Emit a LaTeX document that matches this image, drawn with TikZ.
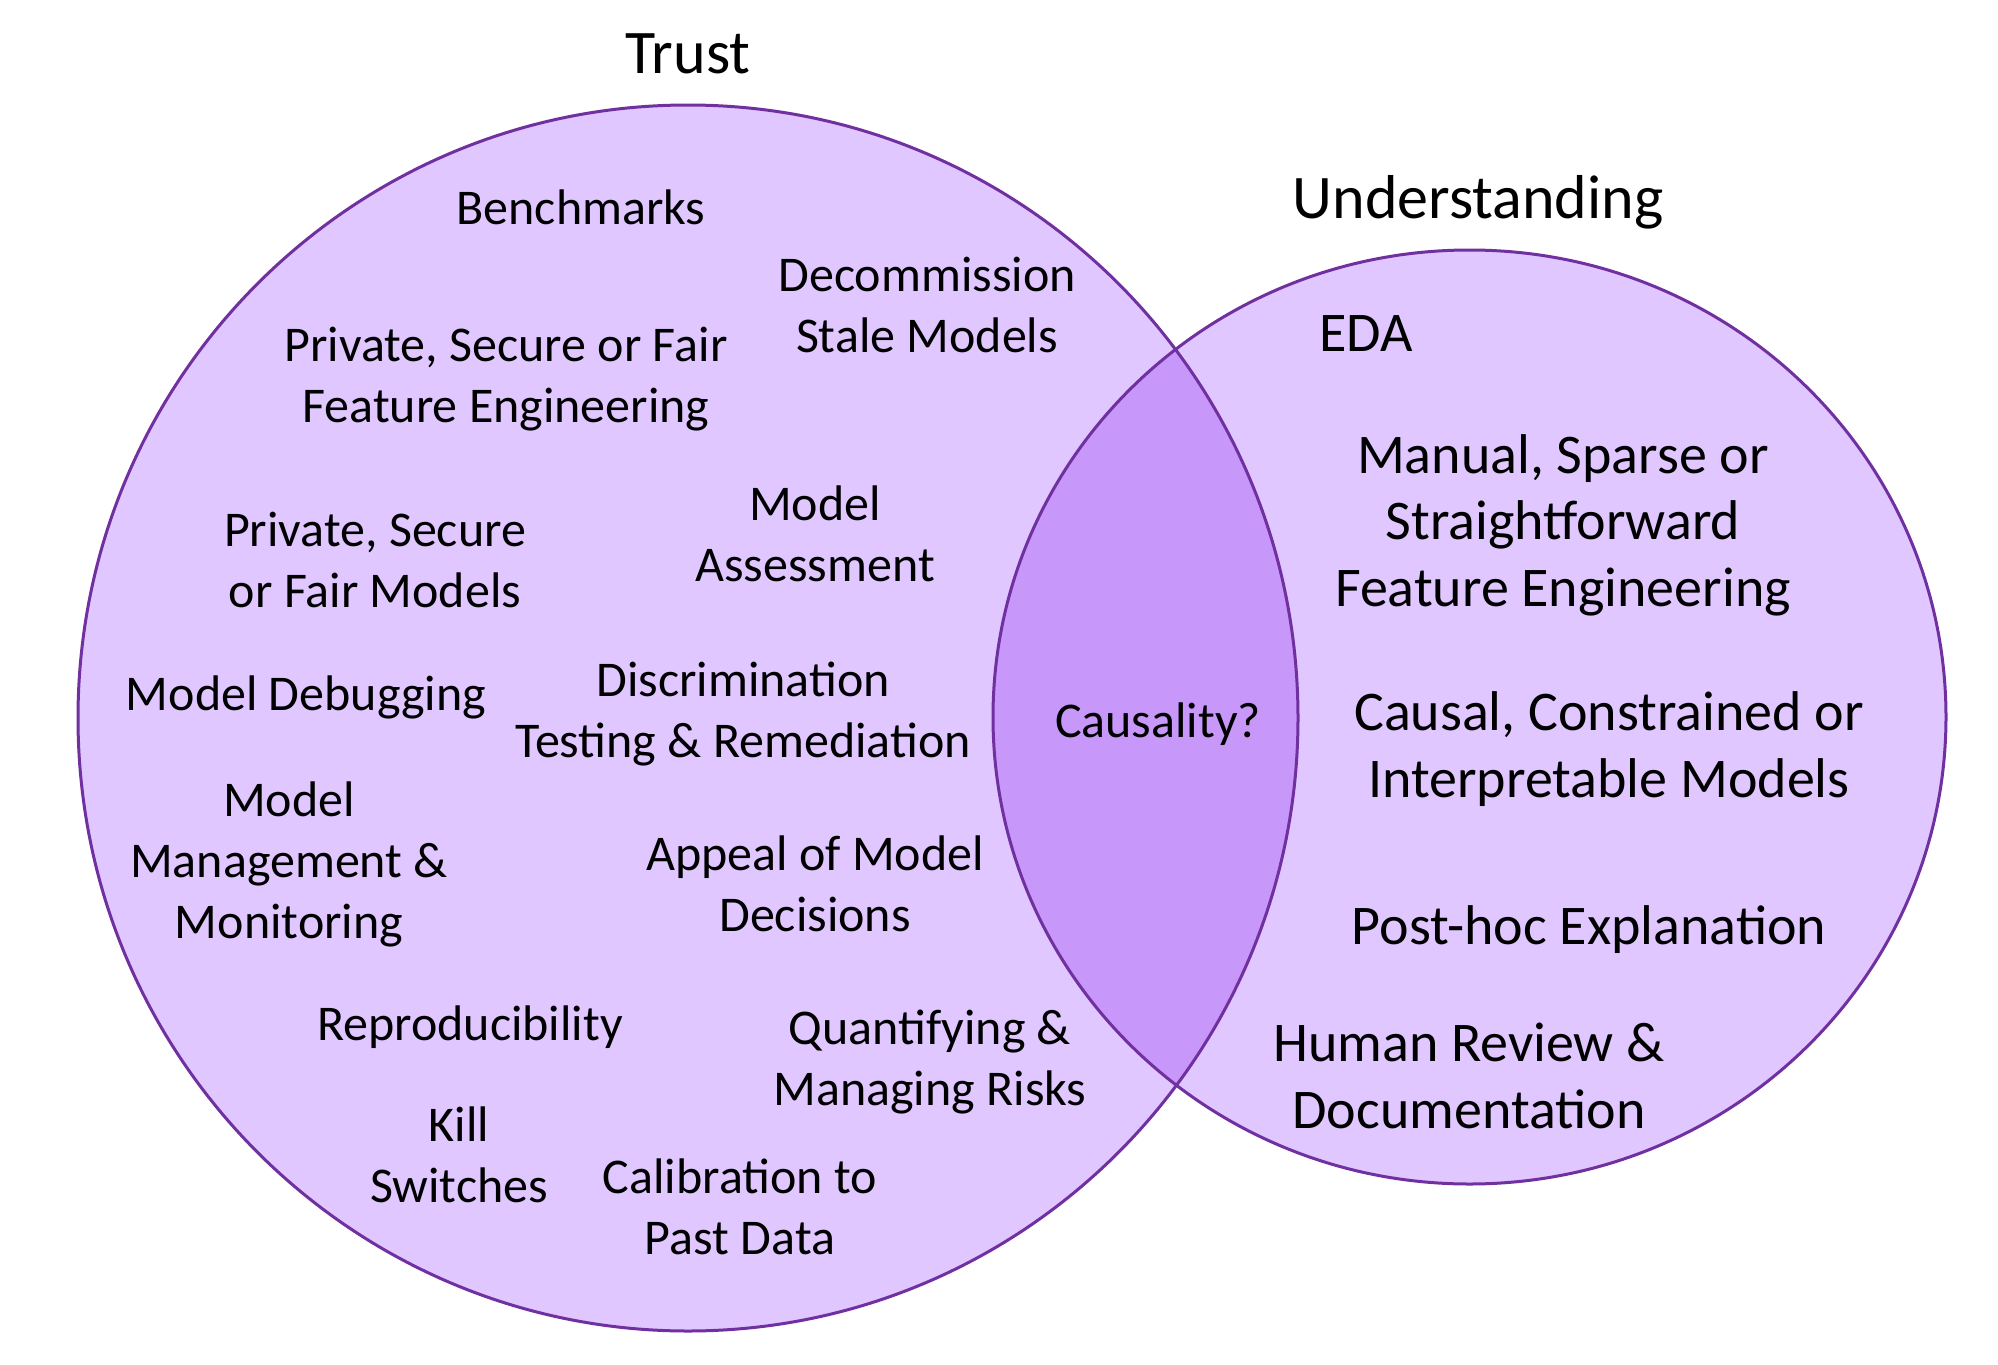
\documentclass[tikz,border=0pt]{standalone}
\usepackage{fontspec}
\setmainfont{Carlito}
\definecolor{setfill}{RGB}{224,199,255}
\definecolor{overlapfill}{RGB}{199,151,250}
\definecolor{setline}{RGB}{112,48,160}
\begin{document}
\begin{tikzpicture}[x=1pt,y=-1pt,
  lbl/.style={align=center, inner sep=0pt, font=\fontsize{50}{61}\selectfont},
  rlbl/.style={align=center, inner sep=0pt, font=\fontsize{56}{66.5}\selectfont},
  title/.style={inner sep=0pt, font=\fontsize{62}{75}\selectfont}]
\useasboundingbox (0,0) rectangle (1998,1365);
% the two sets
\def\trustset{(688,718) ellipse [x radius=610pt, y radius=613pt]}
\def\understandset{(1469.5,717) ellipse [x radius=476.5pt, y radius=467pt]}
\fill[setfill] \trustset;
\fill[setfill] \understandset;
\begin{scope}
  \clip \trustset;
  \fill[overlapfill] \understandset;
\end{scope}
\draw[setline, line width=3pt] \trustset;
\draw[setline, line width=3pt] \understandset;
% set titles
\node[title] (trust) at (688,54) {Trust};
\node[title] (understanding) at (1478,202) {Understanding};
% trust items
\node[lbl] (bench) at (581,207) {Benchmarks};
\node[lbl] (decom) at (927,305) {Decommission\\Stale Models};
\node[lbl] (pfe) at (506,379) {Private, Secure or Fair\\Feature Engineering};
\node[lbl] (pmod) at (375,560) {Private, Secure\\or Fair Models};
\node[lbl] (assess) at (815,534) {Model\\Assessment};
\node[lbl] (debug) at (306,697) {Model Debugging};
\node[lbl] (discr) at (743,714) {Discrimination\\Testing \& Remediation};
\node[lbl] (manage) at (289,864) {Model\\Management \&\\Monitoring};
\node[lbl] (appeal) at (815,884) {Appeal of Model\\Decisions};
\node[lbl] (repro) at (470,1027) {Reproducibility};
\node[lbl] (risk) at (930,1062) {Quantifying \&\\Managing Risks};
\node[lbl] (kill) at (459,1155) {Kill\\Switches};
\node[lbl] (calib) at (740,1207) {Calibration to\\Past Data};
% overlap
\node[lbl] (causal) at (1158,724) {Causality?};
% understanding items
\node[rlbl] (eda) at (1366,334) {EDA};
\node[rlbl] (manual) at (1563,525) {Manual, Sparse or\\Straightforward\\Feature Engineering};
\node[rlbl] (interp) at (1609,749) {Causal, Constrained or\\Interpretable Models};
\node[rlbl] (posthoc) at (1589,930) {Post-hoc Explanation};
\node[rlbl] (review) at (1469,1076) {Human Review \&\\Documentation};
\end{tikzpicture}
\end{document}
